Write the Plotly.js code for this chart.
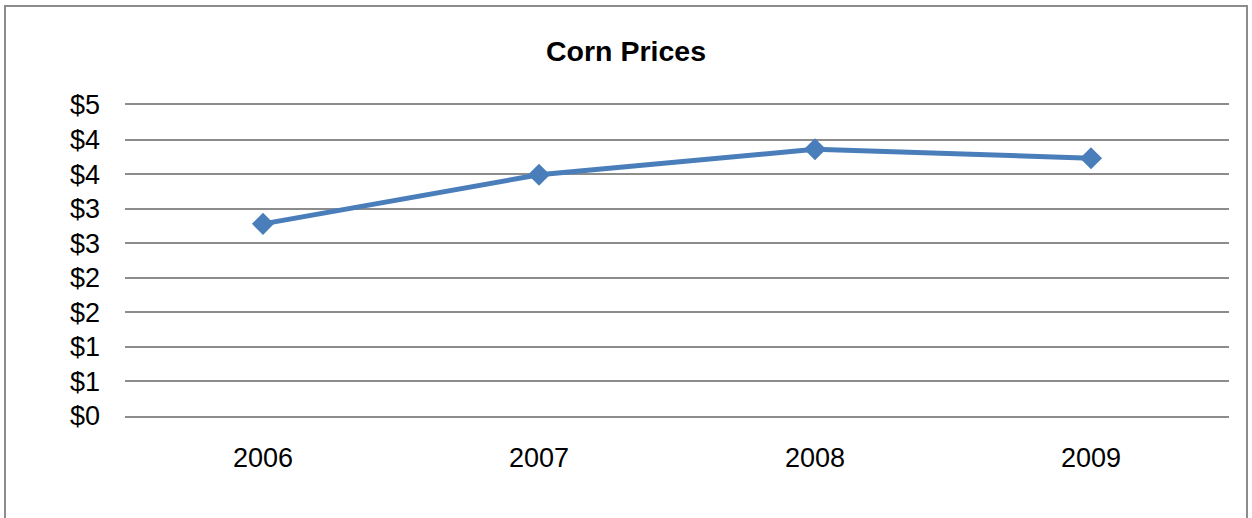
<!DOCTYPE html>
<html>
<head>
<meta charset="utf-8">
<script src="https://cdn.plot.ly/plotly-3.0.1.min.js"></script>
<style>
  html, body { margin: 0; padding: 0; background: #fff; }
  #wrap { position: relative; width: 1252px; height: 518px; overflow: hidden; }
  #chart { width: 1252px; height: 518px; }
  #frame { position: absolute; left: 4px; top: 5px; width: 1244px; height: 530px;
           border: 2px solid #8c8c8c; box-sizing: border-box; pointer-events: none; }
</style>
</head>
<body>
<div id="wrap">
  <div id="chart"></div>
  <div id="frame"></div>
</div>
<script>
const years = ['2006', '2007', '2008', '2009'];
const prices = [2.78, 3.49, 3.86, 3.73];
const yTickVals = [0, 0.5, 1, 1.5, 2, 2.5, 3, 3.5, 4, 4.5];
const yTickText = ['$0', '$1', '$1', '$2', '$2', '$3', '$3', '$4', '$4', '$5'];

const font = 'Liberation Sans, Arial, sans-serif';

Plotly.newPlot('chart', [{
  x: years,
  y: prices,
  type: 'scatter',
  mode: 'lines+markers',
  line: { color: '#4a7ebb', width: 5 },
  marker: { symbol: 'diamond', size: 17, color: '#4a7ebb' },
  hoverinfo: 'skip'
}], {
  width: 1252,
  height: 518,
  margin: { l: 125, r: 23, t: 105, b: 102 },
  paper_bgcolor: '#ffffff',
  plot_bgcolor: '#ffffff',
  showlegend: false,
  title: {
    text: '<b>Corn Prices</b>',
    font: { family: font, size: 28.5, color: '#000' },
    x: 0.5, xanchor: 'center',
    y: 1 - 51 / 518, yanchor: 'middle'
  },
  xaxis: {
    type: 'category',
    range: [-0.5, 3.5],
    showgrid: false,
    zeroline: false,
    showline: true,
    mirror: true,
    linecolor: '#8c8c8c',
    linewidth: 2,
    ticks: '',
    tickfont: { family: font, size: 27, color: '#000' },
    ticklabelstandoff: 17
  },
  yaxis: {
    range: [0, 4.5],
    tickmode: 'array',
    tickvals: yTickVals,
    ticktext: yTickText,
    showgrid: true,
    gridcolor: '#8c8c8c',
    gridwidth: 2,
    zeroline: false,
    showline: false,
    ticks: '',
    tickfont: { family: font, size: 27, color: '#000' },
    ticklabelstandoff: 24
  }
}, { displayModeBar: false, staticPlot: true });
</script>
</body>
</html>
